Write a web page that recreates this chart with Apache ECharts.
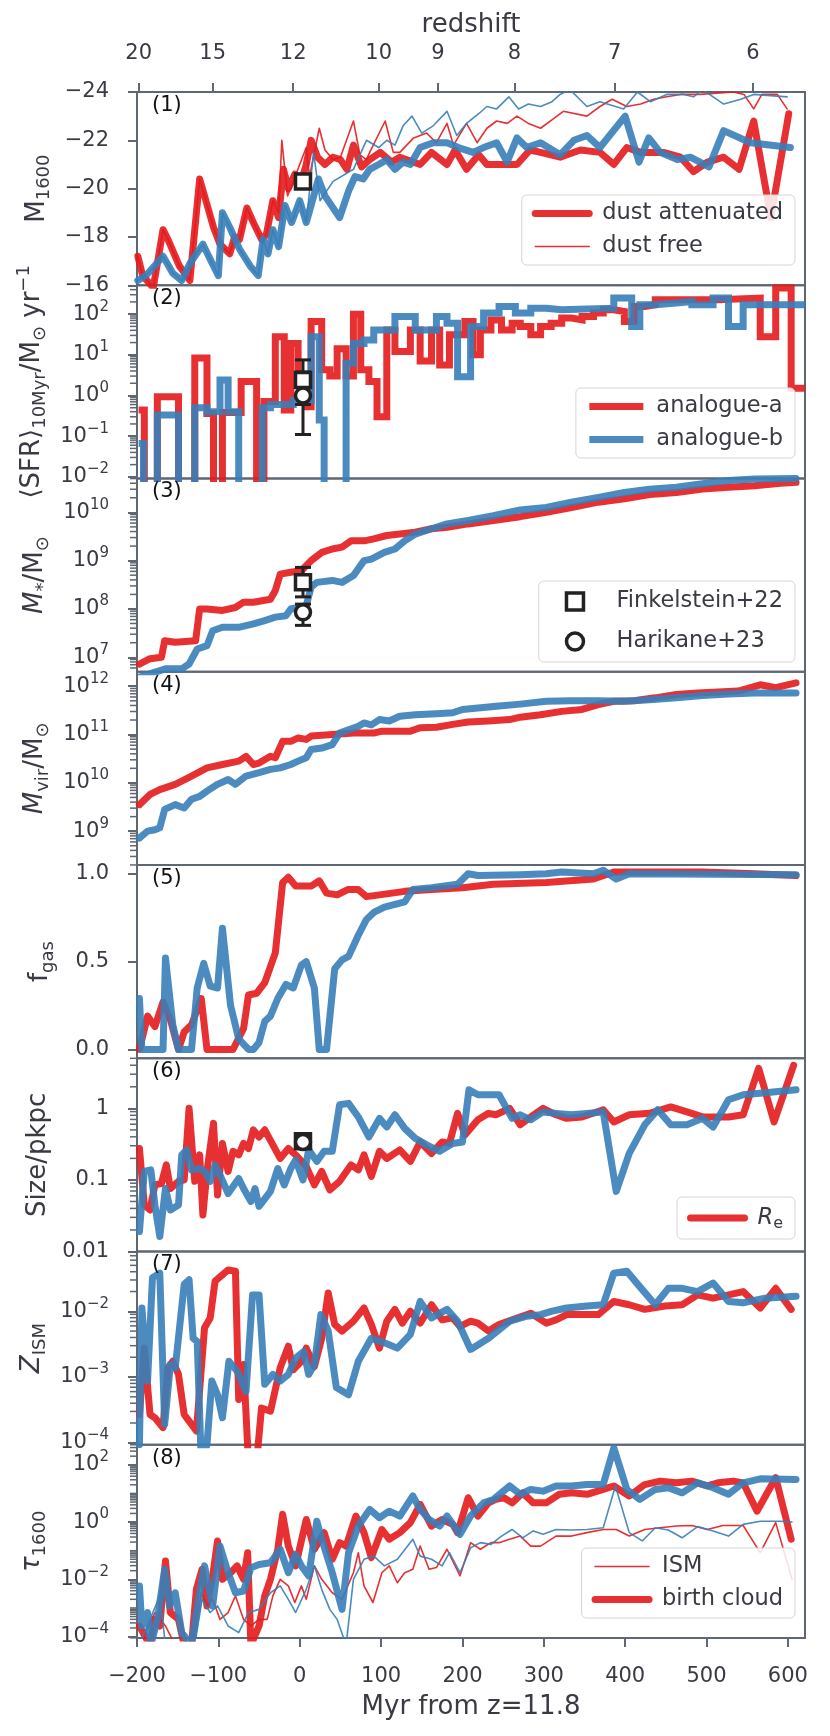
<!DOCTYPE html>
<html>
<head>
<meta charset="utf-8">
<script src="https://cdn.jsdelivr.net/npm/echarts@6/dist/echarts.min.js"></script>
<style>
  html, body { margin: 0; background: #fff; }
  #main { width: 830px; height: 1736px; }
</style>
</head>
<body>
<div id="main"></div>
<script>
// ---- axes: time in Myr from z=11.8, redshift on top ----
var xRange = [-200, 621];
var xTicks = [-200, -100, 0, 100, 200, 300, 400, 500, 600];
var zLabels = [20, 15, 12, 10, 9, 8, 7, 6];
var zMyr = [-198, -107, -8, 97, 170, 264, 387, 557];

// ---- (1) M1600 ----
var m1600A = [[-199,-17.2],[-193,-16.4],[-180,-15.9],[-168,-18.3],[-162,-17.9],[-148,-16.8],[-135,-16.2],[-123,-20.4],[-117,-19.7],[-106,-18.4],[-98,-17.7],[-86,-17.3],[-80,-18.0],[-74,-17.9],[-65,-19.2],[-57,-18.6],[-47,-17.9],[-41,-18.1],[-33,-19.5],[-26,-18.8],[-20,-20.8],[-14,-20.0],[-6,-20.6],[2,-20.3],[8,-21.0],[14,-22.0],[22,-21.3],[31,-21.0],[41,-21.3],[50,-21.2],[58,-20.8],[66,-21.8],[76,-20.9],[86,-21.2],[99,-21.5],[113,-21.1],[123,-21.3],[148,-21.0],[162,-21.5],[181,-21.0],[191,-21.6],[205,-20.8],[220,-21.4],[230,-21.0],[246,-21.0],[267,-21.0],[283,-21.6],[296,-21.5],[320,-21.3],[345,-21.6],[369,-21.5],[386,-21.0],[402,-21.7],[419,-21.5],[447,-21.5],[468,-21.3],[484,-20.7],[501,-21.1],[521,-21.3],[540,-20.8],[558,-22.8],[579,-18.8],[601,-23.1]];
var m1600AFree = [[-199,-17.2],[-193,-16.4],[-180,-15.9],[-168,-18.3],[-162,-17.9],[-148,-16.8],[-135,-16.2],[-123,-20.4],[-117,-19.7],[-106,-18.4],[-98,-17.7],[-86,-17.3],[-80,-18.0],[-74,-17.9],[-65,-19.2],[-57,-18.6],[-47,-17.9],[-41,-18.1],[-33,-19.5],[-26,-19.0],[-22,-22.0],[-15,-19.7],[-8,-20.3],[8,-21.7],[12,-20.5],[24,-22.5],[31,-21.6],[41,-21.2],[50,-21.3],[66,-22.8],[74,-21.4],[82,-21.2],[86,-21.5],[105,-22.8],[115,-21.5],[123,-21.5],[140,-22.1],[156,-22.3],[168,-21.9],[181,-22.7],[189,-21.8],[205,-22.7],[218,-21.9],[230,-22.5],[242,-22.8],[255,-22.7],[267,-23.0],[281,-22.7],[296,-22.5],[312,-22.9],[324,-23.2],[353,-23.0],[369,-23.4],[384,-23.7],[402,-23.4],[419,-23.5],[435,-23.7],[451,-23.8],[468,-23.9],[492,-23.9],[533,-24.0],[546,-23.9],[558,-23.3],[568,-23.9],[587,-23.9],[599,-23.3]];
var m1600B = [[-199,-16.2],[-189,-16.4],[-168,-17.2],[-156,-16.5],[-145,-16.2],[-135,-16.9],[-119,-17.7],[-109,-17.0],[-100,-16.4],[-95,-19.0],[-86,-18.4],[-74,-17.5],[-61,-16.8],[-51,-16.4],[-45,-17.9],[-39,-17.3],[-33,-18.3],[-26,-17.6],[-18,-19.3],[-10,-18.6],[0,-19.5],[8,-18.6],[23,-20.4],[31,-19.7],[49,-18.8],[60,-19.9],[68,-20.5],[78,-20.4],[86,-20.8],[97,-21.0],[107,-21.2],[117,-20.8],[127,-21.1],[136,-21.0],[148,-21.7],[164,-21.9],[181,-21.9],[195,-21.7],[213,-21.5],[226,-21.7],[242,-21.9],[255,-21.1],[267,-22.1],[279,-21.7],[296,-21.9],[320,-21.4],[337,-22.0],[353,-22.2],[369,-21.7],[400,-23.0],[417,-21.1],[429,-22.1],[443,-21.5],[464,-21.2],[480,-21.3],[503,-20.9],[521,-22.4],[554,-21.9],[603,-21.7]];
var m1600BFree = [[-199,-16.2],[-189,-16.4],[-168,-17.2],[-156,-16.5],[-145,-16.2],[-135,-16.9],[-119,-17.7],[-109,-17.0],[-100,-16.4],[-95,-19.0],[-86,-18.4],[-74,-17.5],[-61,-16.8],[-51,-16.4],[-45,-17.9],[-39,-17.3],[-33,-18.3],[-26,-17.6],[-18,-19.3],[-10,-18.6],[0,-19.5],[8,-18.6],[17,-21.5],[25,-19.5],[41,-20.3],[66,-20.8],[82,-22.0],[97,-21.7],[107,-22.0],[117,-21.8],[127,-22.6],[138,-23.0],[150,-22.3],[164,-22.6],[181,-23.2],[193,-22.2],[205,-22.7],[220,-23.1],[230,-23.4],[242,-23.3],[257,-23.8],[269,-23.3],[281,-23.5],[296,-23.4],[310,-23.6],[320,-23.9],[332,-24.1],[353,-23.4],[369,-23.6],[398,-23.3],[415,-24.0],[431,-23.6],[451,-23.9],[472,-23.9],[484,-23.8],[495,-24.1],[521,-23.5],[542,-23.7],[558,-23.9],[599,-23.8]];

// ---- (2) SFR averaged over 10 Myr, Msun/yr (step starts) ----
var sfrA = [[-198,0.44],[-191,0],[-175,0.93],[-149,0],[-129,8.3],[-114,0.36],[-106,0],[-95,0.38],[-72,2.2],[-53,0],[-44,0.71],[-30,28],[-19,0.44],[-11,19],[-2,3],[8,0.53],[14,66],[27,4.3],[37,3],[46,14],[57,3],[66,100],[75,4.3],[85,2.2],[95,0.3],[107,41],[117,12],[136,41],[148,7],[162,41],[172,5.6],[184,31],[203,66],[213,10],[222,41],[235,72],[248,41],[261,60],[271,50],[284,31],[296,50],[309,60],[322,80],[334,72],[347,88],[361,106],[373,128],[386,116],[399,66],[411,154],[424,170],[437,225],[514,248],[566,28],[585,437],[604,1.5],[621,1.5]];
var sfrB = [[-198,0.066],[-192,0],[-175,0.33],[-149,0],[-129,0.5],[-114,0.40],[-98,2.4],[-88,0.40],[-75,0],[-46,0.5],[-36,0.6],[-8,0.75],[14,28],[24,0.25],[30,0],[57,6.2],[66,19],[79,23],[91,41],[117,88],[142,41],[168,88],[181,60],[194,2.9],[210,50],[226,106],[245,154],[265,106],[284,140],[303,128],[322,140],[386,248],[408,50],[418,170],[437,187],[463,205],[482,170],[508,248],[527,50],[545,170],[621,170]];

// ---- (3) log10 stellar mass ----
var mstarA = [[-197,6.86],[-184,6.97],[-170,7.0],[-166,7.34],[-153,7.31],[-128,7.34],[-123,8.0],[-114,8.0],[-95,7.97],[-79,8.03],[-69,8.14],[-57,8.14],[-36,8.2],[-30,8.38],[-24,8.72],[-11,8.76],[2,8.79],[14,9.0],[27,9.17],[40,9.24],[52,9.28],[63,9.41],[79,9.41],[91,9.45],[107,9.52],[123,9.55],[142,9.59],[162,9.66],[181,9.69],[207,9.76],[238,9.83],[271,9.91],[303,10.0],[334,10.1],[367,10.21],[399,10.28],[430,10.37],[463,10.41],[495,10.48],[527,10.52],[559,10.55],[591,10.6],[610,10.62]];
var mstarB = [[-197,6.59],[-165,6.76],[-145,6.76],[-136,6.86],[-126,7.17],[-114,7.24],[-107,7.55],[-95,7.62],[-75,7.62],[-57,7.69],[-43,7.76],[-30,7.83],[-17,7.86],[-11,8.0],[-2,8.03],[8,8.07],[14,8.45],[21,8.55],[40,8.59],[52,8.55],[66,8.69],[79,9.0],[88,9.03],[104,9.17],[117,9.24],[129,9.41],[142,9.55],[162,9.66],[181,9.76],[207,9.83],[238,9.93],[271,10.05],[303,10.1],[334,10.21],[367,10.31],[399,10.41],[430,10.48],[463,10.52],[495,10.59],[527,10.66],[559,10.69],[610,10.7]];

// ---- (4) log10 virial mass ----
var mvirA = [[-197,9.55],[-184,9.76],[-172,9.86],[-153,9.97],[-133,10.14],[-114,10.31],[-95,10.38],[-75,10.45],[-66,10.55],[-57,10.38],[-50,10.41],[-36,10.55],[-30,10.52],[-21,10.86],[-11,10.86],[-2,10.93],[8,10.9],[14,10.97],[40,11.0],[66,11.03],[91,11.03],[101,11.07],[117,11.07],[136,11.07],[148,11.14],[168,11.15],[188,11.21],[207,11.26],[232,11.28],[258,11.31],[271,11.36],[296,11.41],[322,11.48],[347,11.52],[367,11.62],[386,11.69],[411,11.7],[437,11.76],[463,11.83],[489,11.86],[514,11.88],[539,11.9],[566,12.03],[585,11.97],[610,12.07]];
var mvirB = [[-197,8.86],[-187,9.0],[-178,9.03],[-172,9.07],[-166,9.45],[-153,9.55],[-142,9.48],[-133,9.66],[-123,9.72],[-114,9.83],[-101,9.97],[-88,10.07],[-79,9.97],[-66,10.14],[-50,10.21],[-36,10.28],[-24,10.31],[-11,10.38],[-2,10.45],[8,10.52],[14,10.69],[27,10.72],[40,10.79],[49,11.03],[60,11.1],[72,11.17],[79,11.24],[88,11.2],[98,11.31],[110,11.28],[123,11.38],[142,11.41],[168,11.43],[188,11.45],[200,11.52],[219,11.55],[245,11.59],[271,11.63],[303,11.69],[334,11.7],[367,11.7],[399,11.69],[430,11.72],[463,11.76],[495,11.81],[527,11.84],[559,11.86],[610,11.86]];

// ---- (5) gas fraction ----
var fgasA = [[-197,0.0],[-187,0.19],[-178,0.13],[-168,0.27],[-159,0.17],[-149,0.0],[-142,0.1],[-133,0.14],[-121,0.29],[-114,0.0],[-101,0.0],[-82,0.0],[-69,0.12],[-63,0.31],[-53,0.32],[-43,0.38],[-30,0.55],[-21,0.95],[-14,0.98],[-5,0.93],[14,0.93],[24,0.96],[33,0.89],[46,0.88],[59,0.91],[72,0.91],[82,0.87],[98,0.88],[129,0.9],[162,0.91],[200,0.92],[238,0.94],[303,0.95],[361,0.97],[386,1.01],[430,1.01],[495,1.01],[559,1.0],[610,0.99]];
var fgasB = [[-197,0.29],[-194,0.0],[-168,0.0],[-165,0.52],[-156,0.14],[-149,0.0],[-133,0.0],[-126,0.35],[-118,0.49],[-110,0.36],[-101,0.35],[-95,0.69],[-85,0.25],[-75,0.06],[-63,0.0],[-57,0.0],[-50,0.04],[-43,0.16],[-36,0.19],[-27,0.29],[-17,0.37],[-8,0.35],[2,0.48],[8,0.5],[18,0.35],[24,0.0],[33,0.0],[43,0.46],[52,0.51],[60,0.53],[72,0.65],[82,0.74],[91,0.78],[104,0.81],[129,0.84],[139,0.91],[162,0.92],[194,0.94],[207,1.0],[219,0.99],[271,0.995],[303,1.0],[322,1.01],[361,1.0],[373,1.02],[389,0.97],[405,1.0],[610,0.995]];

// ---- (6) log10 size, pkpc ----
var sizeA = [[-197,-0.56],[-191,-1.35],[-184,-1.42],[-178,-1.07],[-170,-1.05],[-164,-0.79],[-159,-1.12],[-149,-1.02],[-142,-1.0],[-136,0.0],[-129,-1.02],[-123,-0.65],[-119,-1.49],[-114,-0.88],[-106,-0.21],[-101,-1.21],[-95,-0.49],[-88,-0.88],[-82,-0.6],[-75,-0.65],[-69,-0.49],[-63,-0.56],[-57,-0.3],[-50,-0.4],[-43,-0.3],[-33,-0.51],[-24,-0.7],[-14,-0.56],[-5,-0.65],[8,-0.81],[18,-1.07],[27,-0.88],[37,-1.14],[49,-1.02],[63,-0.79],[72,-0.86],[79,-0.65],[88,-0.95],[98,-0.6],[107,-0.7],[123,-0.58],[136,-0.74],[148,-0.47],[162,-0.63],[175,-0.47],[184,-0.49],[194,-0.07],[203,-0.37],[219,-0.16],[232,-0.07],[241,-0.09],[258,0.0],[271,-0.23],[284,-0.12],[299,0.0],[315,-0.09],[328,-0.14],[347,-0.12],[373,-0.02],[386,-0.19],[405,-0.09],[430,-0.07],[456,0.02],[476,-0.05],[495,-0.12],[527,-0.12],[545,-0.09],[564,0.56],[583,-0.19],[607,0.6]];
var sizeB = [[-197,-1.72],[-191,-0.88],[-183,-0.86],[-178,-1.35],[-172,-1.79],[-165,-1.12],[-159,-1.42],[-149,-1.35],[-145,-0.65],[-139,-0.58],[-133,-0.86],[-123,-0.84],[-117,-0.88],[-110,-1.02],[-104,-0.79],[-98,-0.93],[-88,-1.19],[-75,-0.98],[-69,-1.12],[-60,-1.3],[-55,-1.12],[-50,-1.37],[-36,-1.16],[-27,-0.84],[-19,-1.07],[-11,-0.84],[-5,-0.72],[4,-1.0],[11,-0.58],[21,-0.74],[30,-0.6],[40,-0.6],[49,0.05],[60,0.07],[72,-0.12],[85,-0.4],[98,-0.14],[107,-0.26],[117,-0.09],[129,-0.28],[142,-0.42],[156,-0.51],[172,-0.6],[188,-0.49],[200,-0.47],[208,0.26],[219,0.19],[245,0.19],[261,-0.14],[271,-0.09],[284,-0.16],[299,-0.05],[315,-0.07],[334,-0.09],[353,-0.07],[373,-0.05],[389,-1.16],[405,-0.63],[424,-0.23],[440,-0.02],[456,-0.23],[476,-0.23],[495,-0.14],[508,-0.26],[527,0.12],[545,0.19],[566,0.21],[610,0.26]];

// ---- (7) log10 ISM metallicity ----
var zismA = [[-197,-3.57],[-191,-2.56],[-184,-3.57],[-178,-3.62],[-168,-3.77],[-162,-2.86],[-156,-2.76],[-149,-2.96],[-142,-3.57],[-136,-3.67],[-127,-3.82],[-117,-2.25],[-110,-2.1],[-104,-1.54],[-88,-1.37],[-79,-1.39],[-75,-3.34],[-69,-2.81],[-63,-4.3],[-53,-4.3],[-47,-3.47],[-36,-3.52],[-24,-2.86],[-14,-2.53],[-8,-2.89],[2,-2.76],[8,-2.56],[18,-2.84],[27,-2.41],[35,-1.72],[43,-2.2],[52,-2.3],[66,-2.15],[79,-1.95],[88,-2.2],[98,-2.56],[107,-2.15],[117,-1.97],[126,-2.18],[136,-2.0],[148,-2.18],[162,-1.9],[175,-2.13],[188,-2.1],[197,-2.23],[210,-2.15],[219,-2.18],[232,-2.3],[245,-2.2],[261,-2.13],[284,-2.03],[303,-2.18],[315,-2.13],[328,-2.05],[347,-2.05],[367,-2.05],[386,-1.85],[405,-1.9],[424,-1.97],[449,-1.92],[470,-1.9],[489,-1.75],[508,-1.8],[527,-1.75],[545,-1.7],[566,-1.95],[585,-1.65],[604,-1.97]];
var zismB = [[-197,-4.03],[-194,-1.95],[-187,-3.06],[-181,-1.49],[-172,-1.42],[-166,-3.72],[-159,-2.81],[-153,-2.86],[-142,-1.59],[-136,-1.52],[-131,-2.41],[-126,-2.46],[-121,-4.3],[-114,-4.03],[-108,-3.06],[-101,-3.27],[-95,-3.62],[-87,-2.76],[-77,-2.91],[-66,-3.22],[-58,-1.75],[-50,-1.75],[-43,-3.11],[-33,-2.96],[-24,-3.06],[-14,-2.96],[-5,-2.71],[5,-2.61],[11,-2.96],[18,-2.81],[26,-2.05],[35,-2.3],[45,-3.16],[60,-3.27],[72,-2.76],[88,-2.41],[104,-2.48],[120,-2.56],[136,-2.35],[148,-1.85],[162,-2.1],[181,-1.97],[194,-2.15],[210,-2.58],[232,-2.41],[258,-2.15],[277,-2.08],[296,-2.05],[309,-2.0],[328,-1.95],[353,-1.92],[373,-1.9],[386,-1.42],[402,-1.39],[421,-1.67],[437,-1.9],[453,-1.65],[470,-1.65],[489,-1.7],[508,-1.57],[527,-1.85],[545,-1.87],[572,-1.8],[610,-1.77]];

// ---- (8) log10 optical depth at 1600A ----
var tauBcA = [[-197,-3.63],[-184,-4.3],[-178,-3.4],[-172,-3.63],[-165,-1.36],[-159,-3.16],[-149,-3.4],[-142,-4.3],[-133,-4.3],[-127,-2.35],[-120,-1.65],[-114,-2.93],[-107,-1.88],[-101,-0.66],[-95,-2.0],[-85,-1.77],[-77,-1.53],[-69,-2.0],[-64,-1.07],[-60,-4.3],[-50,-3.63],[-43,-2.58],[-36,-2.0],[-27,-0.95],[-21,0.27],[-14,-0.84],[-5,-1.53],[8,0.09],[18,-0.95],[30,-0.37],[40,-1.3],[49,-0.72],[57,-0.84],[69,0.21],[79,-0.37],[88,-1.24],[101,-0.26],[110,-0.6],[123,-0.37],[136,-0.02],[148,0.62],[162,-0.14],[175,0.09],[188,-0.08],[194,-0.37],[207,0.85],[219,0.21],[232,0.67],[241,0.79],[251,0.85],[261,0.67],[274,1.02],[287,0.67],[303,0.67],[319,0.97],[334,1.02],[353,0.97],[373,1.14],[386,1.26],[405,0.91],[424,1.31],[443,1.43],[463,1.37],[482,1.43],[501,1.26],[514,1.37],[533,1.43],[545,1.37],[562,0.38],[585,1.55],[604,-0.6]];
var tauBcB = [[-197,-2.23],[-194,-3.63],[-187,-3.16],[-183,-4.3],[-175,-3.4],[-166,-1.65],[-160,-2.93],[-153,-2.47],[-145,-3.86],[-133,-4.3],[-123,-2.47],[-117,-1.53],[-107,-2.93],[-98,-0.84],[-88,-1.77],[-79,-2.47],[-69,-2.41],[-60,-1.6],[-50,-1.48],[-36,-1.42],[-24,-0.95],[-14,-1.77],[-5,-1.13],[2,-1.53],[11,-1.88],[21,0.03],[27,-0.6],[40,-1.77],[52,-3.05],[60,-1.07],[72,-0.14],[86,0.44],[98,0.15],[110,0.38],[123,0.21],[139,0.91],[148,0.44],[159,0.09],[172,-0.14],[181,0.21],[197,-0.43],[210,0.21],[226,0.67],[238,0.79],[258,1.26],[271,0.97],[284,1.14],[299,1.08],[315,1.26],[334,1.26],[353,1.31],[373,1.31],[386,2.59],[402,1.14],[418,0.79],[437,1.14],[453,1.2],[470,1.02],[489,1.37],[508,1.2],[527,0.97],[545,1.37],[566,1.51],[610,1.49]];
var tauIsmA = [[-197,-4.3],[-178,-3.16],[-165,-3.63],[-153,-4.3],[-131,-4.3],[-121,-2.47],[-114,-2.93],[-107,-2.7],[-98,-3.4],[-88,-3.16],[-79,-2.58],[-69,-3.4],[-60,-3.63],[-50,-3.4],[-40,-3.4],[-33,-2.58],[-24,-2.0],[-14,-2.23],[-6,-2.81],[2,-2.23],[8,-2.7],[18,-1.53],[27,-2.0],[40,-2.47],[52,-2.7],[66,-1.77],[72,-1.07],[79,-2.23],[90,-2.81],[101,-1.77],[110,-1.53],[120,-2.12],[129,-1.77],[139,-1.65],[148,-0.84],[159,-1.65],[168,-1.59],[181,-0.95],[197,-1.88],[210,-0.72],[222,-0.95],[235,-0.72],[245,-0.72],[258,-0.6],[271,-0.49],[284,-0.84],[296,-0.84],[315,-0.49],[334,-0.49],[353,-0.37],[373,-0.26],[389,-0.26],[405,-0.49],[424,-0.26],[443,-0.2],[463,-0.14],[482,-0.12],[501,-0.26],[520,-0.12],[545,-0.12],[566,-1.07],[585,-0.02],[605,-2.0]];
var tauIsmB = [[-197,-4.3],[-184,-3.4],[-172,-2.58],[-165,-4.3],[-153,-4.3],[-129,-4.3],[-120,-2.7],[-110,-3.16],[-101,-2.93],[-88,-3.63],[-75,-3.86],[-63,-3.16],[-50,-3.05],[-36,-2.47],[-24,-2.23],[-14,-2.7],[-5,-3.16],[8,-2.35],[18,-1.53],[27,-2.35],[37,-3.05],[46,-3.4],[57,-4.3],[66,-2.0],[79,-1.3],[91,-1.19],[104,-1.53],[120,-1.3],[139,-0.6],[148,-1.19],[162,-1.3],[175,-1.53],[184,-1.07],[197,-1.77],[210,-0.9],[222,-0.72],[235,-0.78],[248,-0.49],[261,-0.26],[274,-0.55],[287,-0.31],[299,-0.43],[315,-0.26],[334,-0.28],[353,-0.26],[373,-0.2],[388,1.26],[405,-0.37],[421,-0.66],[437,-0.2],[453,-0.28],[470,-0.55],[489,-0.16],[508,-0.31],[527,-0.49],[545,-0.08],[566,0.03],[591,0.03],[605,0.0]];

// ---- observations at z~11.8: [value, low, high] ----
var obsT = 4;
var obsM1600 = [-20.3];
var obsSfrF22 = [2.4, 0.6, 7.5];
var obsSfrH23 = [1.0, 0.11, 3.8];
var obsMstarF22 = [8.55, 8.25, 8.86];
var obsMstarH23 = [7.93, 7.66, 8.1];
var obsSizeF22 = [-0.46, -0.51, -0.41];
var obsSizeH23 = [-0.47, -0.52, -0.42];

// ---- style ----
var FONT = 'DejaVu Sans';
var RED = '#e41a1c', BLUE = '#377eb8';
var FRAME = '#5f6773', INK = '#3a3a44';
var THICK = 7, THIN = 1.6;
var PANEL_TOP = 92, PANEL_H = 193.25;

var panels = [
  {tag: '(1)', name: '{n|M}{sub|1600}', min: -24, max: -16, inverse: true, ticks: [-24, -22, -20, -18, -16], fmt: 'lin'},
  {tag: '(2)', name: '{n|⟨SFR⟩}{sub|10Myr}{n|/M}{sub|⊙}{n| yr}{sup|−1}', min: -2.04, max: 2.71, ticks: [-2, -1, 0, 1, 2], fmt: 'pow', minor: true},
  {tag: '(3)', name: '{i|M}{sub|*}{n|/M}{sub|⊙}', min: 6.70, max: 10.70, ticks: [7, 8, 9, 10], fmt: 'pow', minor: true},
  {tag: '(4)', name: '{i|M}{sub|vir}{n|/M}{sub|⊙}', min: 8.30, max: 12.30, ticks: [9, 10, 11, 12], fmt: 'pow', minor: true},
  {tag: '(5)', name: '{n|f}{sub|gas}', min: -0.05, max: 1.05, ticks: [0, 0.5, 1], fmt: 'fix1'},
  {tag: '(6)', name: '{n|Size/pkpc}', min: -2.0, max: 0.70, ticks: [-2, -1, 0], fmt: 'plain', minor: true},
  {tag: '(7)', name: '{i|Z}{sub|ISM}', min: -4.03, max: -1.09, ticks: [-4, -3, -2], fmt: 'pow', minor: true},
  {tag: '(8)', name: '{i|τ}{sub|1600}', min: -4.05, max: 2.70, ticks: [-4, -2, 0, 2], fmt: 'pow', minor: true, extraMinor: [-3, -1, 1]}
];

var nameRich = {
  n: {fontFamily: FONT, fontSize: 26, color: INK, lineHeight: 34},
  i: {fontFamily: FONT, fontSize: 26, color: INK, fontStyle: 'italic', lineHeight: 34},
  sub: {fontFamily: FONT, fontSize: 18, color: INK, lineHeight: 18, verticalAlign: 'bottom'},
  sup: {fontFamily: FONT, fontSize: 18, color: INK, lineHeight: 18, verticalAlign: 'top'}
};

function lg(v) { return v > 0 ? Math.log10(v) : -9; }

function fmtLabel(kind) {
  return function (v) {
    if (kind === 'lin') return String(v).replace('-', '−');
    if (kind === 'fix1') return v.toFixed(1);
    if (kind === 'plain') return String(+Math.pow(10, v).toPrecision(1));
    return '10{sup|' + String(Math.round(v)).replace('-', '−') + '}';
  };
}

// log-spaced minor tick positions (2..9 x 10^n) inside the panel range
function minorTicks(p) {
  var out = [];
  for (var n = Math.floor(p.min); n <= Math.ceil(p.max); n++) {
    for (var k = 2; k <= 9; k++) {
      var v = n + Math.log10(k);
      if (v > p.min && v < p.max) out.push(v);
    }
  }
  return out.concat(p.extraMinor || []);
}

var noLine = {show: false, onZero: false};
var grids = [], xAxes = [], yAxes = [], yIdx = [];
panels.forEach(function (p, i) {
  var last = i === panels.length - 1;
  grids.push({left: 137, right: 25, top: PANEL_TOP + i * PANEL_H, height: PANEL_H,
    show: true, borderColor: FRAME, borderWidth: 2, backgroundColor: 'transparent'});
  xAxes.push({
    type: 'value', gridIndex: i, position: 'bottom', min: xRange[0], max: xRange[1],
    axisLine: noLine, splitLine: {show: false},
    axisTick: {show: last, customValues: xTicks, length: 9, lineStyle: {color: FRAME, width: 2}},
    axisLabel: {show: last, customValues: xTicks, margin: 28, fontFamily: FONT, fontSize: 21, color: INK,
      formatter: function (v) { return String(v).replace('-', '−'); }},
    name: last ? 'Myr from z=11.8' : '', nameLocation: 'middle', nameGap: 56,
    nameTextStyle: {fontFamily: FONT, fontSize: 26, color: INK}
  });
  yIdx.push(yAxes.length);
  yAxes.push({
    type: 'value', gridIndex: i, position: 'left', min: p.min, max: p.max, inverse: !!p.inverse,
    name: p.name, nameLocation: 'middle', nameRotate: 90, nameGap: 80,
    nameTextStyle: {rich: nameRich},
    axisLine: noLine, splitLine: {show: false},
    axisTick: {show: true, customValues: p.ticks, length: 9, lineStyle: {color: FRAME, width: 2}},
    axisLabel: {show: true, customValues: p.ticks, margin: 28, fontFamily: FONT, fontSize: 21, color: INK,
      lineHeight: 30, formatter: fmtLabel(p.fmt),
      rich: {sup: {fontFamily: FONT, fontSize: 15, color: INK, lineHeight: 15, verticalAlign: 'top'}}}
  });
});
// redshift axis on top of the first panel
xAxes.push({
  type: 'value', gridIndex: 0, position: 'top', min: xRange[0], max: xRange[1],
  axisLine: noLine, splitLine: {show: false},
  axisTick: {show: true, customValues: zMyr, length: 9, lineStyle: {color: FRAME, width: 2}},
  axisLabel: {show: true, customValues: zMyr, margin: 28, fontFamily: FONT, fontSize: 21, color: INK,
    formatter: function (v) {
      var best = 0;
      zMyr.forEach(function (m, k) { if (Math.abs(m - v) < Math.abs(zMyr[best] - v)) best = k; });
      return String(zLabels[best]);
    }},
  name: 'redshift', nameLocation: 'middle', nameGap: 54,
  nameTextStyle: {fontFamily: FONT, fontSize: 26, color: INK}
});

function line(name, panel, pts, color, width, extra) {
  return Object.assign({
    type: 'line', name: name, xAxisIndex: panel, yAxisIndex: yIdx[panel],
    data: pts, symbol: 'none', showSymbol: false, animation: false, silent: true,
    lineStyle: {color: color, width: width, opacity: 0.9, cap: 'round', join: 'round'},
    itemStyle: {color: color}, emphasis: {disabled: true}
  }, extra || {});
}
function stepLine(name, panel, pts, color) {
  return line(name, panel, pts.map(function (d) { return [d[0], lg(d[1])]; }), color, THICK, {
    step: 'end',
    lineStyle: {color: color, width: THICK, opacity: 0.9, cap: 'butt', join: 'miter'}
  });
}
function marker(name, panel, symbol, v) {
  return {
    type: 'scatter', name: name, xAxisIndex: panel, yAxisIndex: yIdx[panel],
    data: [[obsT, v]], symbol: symbol, symbolSize: 15, z: 6, animation: false, silent: true,
    itemStyle: {color: '#ffffff', borderColor: '#222222', borderWidth: 3.5, opacity: 1}
  };
}
function errBars(name, panel, rows) {
  return {
    type: 'custom', name: name, xAxisIndex: panel, yAxisIndex: yIdx[panel], z: 5,
    animation: false, silent: true,
    data: rows.map(function (r) { return [obsT, r[0], r[1], r[2]]; }),
    encode: {x: 0, y: [1, 2, 3]},
    renderItem: function (params, api) {
      var hi = api.coord([api.value(0), api.value(3)]);
      var lo = api.coord([api.value(0), api.value(2)]);
      var st = {stroke: '#222222', lineWidth: 3};
      return {type: 'group', children: [
        {type: 'line', shape: {x1: hi[0], y1: hi[1], x2: lo[0], y2: lo[1]}, style: st},
        {type: 'line', shape: {x1: hi[0] - 8, y1: hi[1], x2: hi[0] + 8, y2: hi[1]}, style: st},
        {type: 'line', shape: {x1: lo[0] - 8, y1: lo[1], x2: lo[0] + 8, y2: lo[1]}, style: st}
      ]};
    }
  };
}
// short outward ticks on the left spine at the log minor positions
function minorTickMarks(panel, vals) {
  return {
    type: 'scatter', name: 'minor ticks ' + panel, xAxisIndex: panel, yAxisIndex: yIdx[panel],
    silent: true, animation: false, clip: false, z: 3,
    data: vals.map(function (v) { return [xRange[0], v]; }),
    symbol: 'rect', symbolSize: [6, 1.5], symbolOffset: [-4, 0],
    itemStyle: {color: FRAME, opacity: 1}
  };
}
function logRow(r) { return r.map(lg); }

var series = [
  line('dust attenuated', 0, m1600A, RED, THICK),
  line('dust free', 0, m1600AFree, RED, THIN),
  line('M1600 b', 0, m1600B, BLUE, THICK),
  line('M1600 b free', 0, m1600BFree, BLUE, THIN),
  marker('F22 M1600', 0, 'rect', obsM1600[0]),

  stepLine('analogue-a', 1, sfrA, RED),
  stepLine('analogue-b', 1, sfrB, BLUE),
  errBars('SFR err', 1, [logRow(obsSfrF22), logRow(obsSfrH23)]),
  marker('F22 SFR', 1, 'rect', lg(obsSfrF22[0])),
  marker('H23 SFR', 1, 'circle', lg(obsSfrH23[0])),

  line('Mstar a', 2, mstarA, RED, THICK),
  line('Mstar b', 2, mstarB, BLUE, THICK),
  errBars('Mstar err', 2, [obsMstarF22, obsMstarH23]),
  marker('Finkelstein+22', 2, 'rect', obsMstarF22[0]),
  marker('Harikane+23', 2, 'circle', obsMstarH23[0]),

  line('Mvir a', 3, mvirA, RED, THICK),
  line('Mvir b', 3, mvirB, BLUE, THICK),

  line('fgas a', 4, fgasA, RED, THICK),
  line('fgas b', 4, fgasB, BLUE, THICK),

  line('R_e', 5, sizeA, RED, THICK),
  line('Re b', 5, sizeB, BLUE, THICK),
  errBars('Size err', 5, [obsSizeF22, obsSizeH23]),
  marker('F22 size', 5, 'rect', obsSizeF22[0]),
  marker('H23 size', 5, 'circle', obsSizeH23[0]),

  line('Z a', 6, zismA, RED, THICK),
  line('Z b', 6, zismB, BLUE, THICK),

  line('ISM', 7, tauIsmA, RED, THIN),
  line('birth cloud', 7, tauBcA, RED, THICK),
  line('ISM b', 7, tauIsmB, BLUE, THIN),
  line('birth cloud b', 7, tauBcB, BLUE, THICK)
];
panels.forEach(function (p, i) {
  if (p.minor) series.push(minorTickMarks(i, minorTicks(p)));
});

function legendBox(names, top, extra) {
  return Object.assign({
    data: names, orient: 'vertical', top: top, right: 35,
    itemWidth: 54, itemHeight: 14, itemGap: 10, padding: [7, 12, 7, 10],
    backgroundColor: 'rgba(255,255,255,0.85)', borderColor: '#d6d6d6', borderWidth: 1, borderRadius: 5,
    selectedMode: false,
    textStyle: {fontFamily: FONT, fontSize: 22.5, color: INK, padding: [0, 0, 0, 8]},
    lineStyle: {width: 'inherit'},
    // line entries: hide the symbol dot, keep only the stroke
    itemStyle: {color: 'rgba(0,0,0,0)', borderWidth: 0, opacity: 0}
  }, extra || {});
}

var legends = [
  legendBox(['dust attenuated', 'dust free'], 195),
  legendBox(['analogue-a', 'analogue-b'], 388),
  legendBox(['Finkelstein+22', 'Harikane+23'], 581, {
    itemWidth: 17, itemHeight: 17, itemGap: 17, padding: [9, 12, 9, 26],
    symbolKeepAspect: true,
    itemStyle: {borderWidth: 'inherit'},
    textStyle: {fontFamily: FONT, fontSize: 22.5, color: INK, padding: [0, 0, 0, 28]}
  }),
  legendBox(['R_e'], 1197, {
    formatter: function () { return '{i|R}{s|e}'; },
    textStyle: {fontFamily: FONT, fontSize: 22.5, color: INK, lineHeight: 28, padding: [0, 0, 0, 8], rich: {
      i: {fontFamily: FONT, fontSize: 22.5, fontStyle: 'italic', color: INK, lineHeight: 28},
      s: {fontFamily: FONT, fontSize: 16, color: INK, lineHeight: 16, verticalAlign: 'bottom'}
    }}
  }),
  legendBox(['ISM', 'birth cloud'], 1548)
];

var tags = panels.map(function (p, i) {
  return {type: 'text', left: 152, top: PANEL_TOP + i * PANEL_H + 3, z: 10,
    style: {text: p.tag, font: '21px "DejaVu Sans"', fill: '#111111'}};
});

var chart = echarts.init(document.getElementById('main'));
chart.setOption({
  animation: false,
  backgroundColor: '#ffffff',
  grid: grids,
  xAxis: xAxes,
  yAxis: yAxes,
  legend: legends,
  graphic: tags,
  series: series
});
</script>
</body>
</html>
